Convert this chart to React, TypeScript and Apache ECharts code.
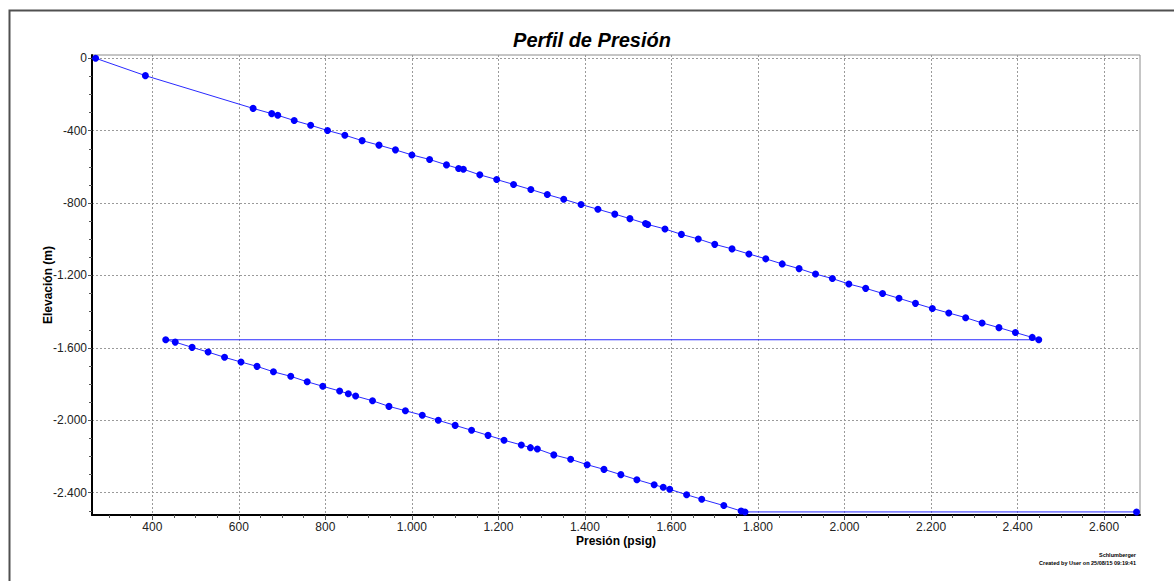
import React, { useEffect, useRef } from "react";
import * as echarts from "echarts";

// Pressure (psig) and elevation (m) along the flow path, in order
const pressures: number[] = [
  269, 384, 633, 676, 690, 728, 766, 805, 845, 885, 924, 962, 1000, 1041, 1080, 1108, 1119, 1157, 1196,
  1235, 1275, 1313, 1351, 1391, 1430, 1469, 1504, 1540, 1545, 1585, 1623, 1662, 1700, 1740, 1779, 1818,
  1856, 1895, 1933, 1972, 2010, 2049, 2088, 2126, 2164, 2203, 2241, 2280, 2318, 2357, 2395, 2434, 2449,
  431, 453, 492, 529, 567, 605, 642, 680, 720, 758, 794, 833, 853, 870, 909, 947, 985, 1024, 1061, 1100,
  1138, 1176, 1213, 1253, 1274, 1290, 1328, 1367, 1405, 1444, 1483, 1520, 1560, 1581, 1596, 1635, 1670,
  1721, 1761, 1770, 2675,
];
const elevations: number[] = [
  0, -96, -277, -306, -315, -344, -370, -399, -425, -455, -480, -506, -534, -559, -589, -609, -613, -644,
  -670, -697, -725, -753, -779, -808, -834, -861, -886, -913, -918, -943, -973, -998, -1028, -1053, -1081,
  -1108, -1136, -1162, -1192, -1217, -1247, -1271, -1299, -1326, -1354, -1382, -1407, -1433, -1462, -1488,
  -1515, -1542, -1555,
  -1555, -1568, -1597, -1623, -1652, -1678, -1702, -1732, -1757, -1787, -1812, -1838, -1853, -1866, -1892,
  -1923, -1947, -1972, -2000, -2028, -2055, -2083, -2110, -2136, -2151, -2158, -2191, -2215, -2245, -2271,
  -2300, -2328, -2356, -2370, -2381, -2411, -2436, -2471, -2501, -2506, -2506,
];

const xTicks: number[] = [400, 600, 800, 1000, 1200, 1400, 1600, 1800, 2000, 2200, 2400, 2600];
const xMinorTicks: number[] = [
  300, 350, 450, 500, 550, 650, 700, 750, 850, 900, 950, 1050, 1100, 1150, 1250, 1300, 1350, 1450, 1500,
  1550, 1650, 1700, 1750, 1850, 1900, 1950, 2050, 2100, 2150, 2250, 2300, 2350, 2450, 2500, 2550, 2650,
];
const yTicks: number[] = [0, -400, -800, -1200, -1600, -2000, -2400];
const yMinorTicks: number[] = [
  -100, -200, -300, -500, -600, -700, -900, -1000, -1100, -1300, -1400, -1500, -1700, -1800, -1900, -2100,
  -2200, -2300, -2500,
];

const X_MIN = 260.6;
const X_MAX = 2683;
const Y_MIN = -2523;
const Y_MAX = 18;

const FONT = "'Liberation Sans', Arial, sans-serif";

function fmt(v: number): string {
  const s = Math.abs(Math.round(v))
    .toString()
    .replace(/\B(?=(\d{3})+(?!\d))/g, ".");
  return (v < 0 ? "-" : "") + s;
}

export default function App() {
  const ref = useRef<HTMLDivElement>(null);

  useEffect(() => {
    if (!ref.current) return;
    const chart = echarts.init(ref.current, undefined, { renderer: "svg" });
    const data = pressures.map((p, i) => [p, elevations[i]]);
    const gridLine = { show: true, lineStyle: { color: "#9a9a9a", type: [2, 2] as any, width: 1 } };

    chart.setOption({
      animation: false,
      backgroundColor: "#ffffff",
      title: {
        text: "Perfil de Presión",
        left: 587,
        top: 25,
        textAlign: "center",
        textStyle: { fontFamily: FONT, fontSize: 20, fontWeight: "bold", fontStyle: "italic", color: "#000" },
      },
      grid: {
        left: 92,
        right: 34,
        top: 55,
        bottom: 66,
        show: true,
        borderColor: "#8c8c8c",
        borderWidth: 1,
        backgroundColor: "transparent",
      },
      xAxis: [
        {
          type: "value",
          min: X_MIN,
          max: X_MAX,
          position: "bottom",
          name: "Presión (psig)",
          nameLocation: "middle",
          nameGap: 20,
          nameMoveOverlap: false,
          nameTextStyle: { fontFamily: FONT, fontSize: 12, fontWeight: "bold", color: "#000" },
          axisLine: { show: true, onZero: false, lineStyle: { color: "#000", width: 2 } },
          axisTick: { show: true, inside: false, customValues: xTicks, length: 5, lineStyle: { color: "#555" } },
          axisLabel: {
            customValues: xTicks,
            formatter: (v: number) => fmt(v),
            fontFamily: FONT,
            fontSize: 12,
            color: "#222",
            margin: 6,
          },
          splitLine: gridLine,
        },
        {
          type: "value",
          min: X_MIN,
          max: X_MAX,
          position: "bottom",
          offset: 0,
          axisLine: { show: false, onZero: false },
          axisTick: { show: true, inside: false, customValues: xMinorTicks, length: 3, lineStyle: { color: "#555" } },
          axisLabel: { show: false },
          splitLine: { show: false },
        },
      ],
      yAxis: [
        {
          type: "value",
          min: Y_MIN,
          max: Y_MAX,
          position: "left",
          name: "Elevación (m)",
          nameLocation: "middle",
          nameGap: 38,
          nameMoveOverlap: false,
          nameTextStyle: { fontFamily: FONT, fontSize: 12, fontWeight: "bold", color: "#000" },
          axisLine: { show: true, onZero: false, lineStyle: { color: "#000", width: 2 } },
          axisTick: { show: true, inside: false, customValues: yTicks, length: 4, lineStyle: { color: "#555" } },
          axisLabel: {
            customValues: yTicks,
            formatter: (v: number) => fmt(v),
            fontFamily: FONT,
            fontSize: 12,
            color: "#222",
            margin: 5,
          },
          splitLine: gridLine,
        },
        {
          type: "value",
          min: Y_MIN,
          max: Y_MAX,
          position: "left",
          offset: 0,
          axisLine: { show: false, onZero: false },
          axisTick: { show: true, inside: false, customValues: yMinorTicks, length: 3, lineStyle: { color: "#555" } },
          axisLabel: { show: false },
          splitLine: { show: false },
        },
      ],
      series: [
        {
          type: "line",
          xAxisIndex: 0,
          yAxisIndex: 0,
          data,
          symbol: "circle",
          symbolSize: 7,
          showAllSymbol: true,
          itemStyle: { color: "#0000ff" },
          lineStyle: { color: "#2a2aff", width: 1 },
          clip: false,
        },
      ],
      graphic: [
        {
          type: "rect",
          left: 7,
          top: 8,
          shape: { x: 0, y: 0, width: 1200, height: 600 },
          style: { fill: "none", stroke: "#505050", lineWidth: 2 },
          silent: true,
        },
        {
          type: "text",
          right: 38,
          top: 552,
          style: {
            text: "Schlumberger",
            fontFamily: FONT,
            fontSize: 5.5,
            fontWeight: "bold",
            fill: "#000",
            textAlign: "right",
          },
        },
        {
          type: "text",
          right: 38,
          top: 560,
          style: {
            text: "Created by User on 25/08/15 09:19:41",
            fontFamily: FONT,
            fontSize: 5.5,
            fontWeight: "bold",
            fill: "#000",
            textAlign: "right",
          },
        },
      ],
    });

    return () => chart.dispose();
  }, []);

  return (
    <div
      ref={ref}
      style={{ position: "fixed", left: 0, top: 0, width: 1174, height: 581, background: "#fff" }}
    />
  );
}
